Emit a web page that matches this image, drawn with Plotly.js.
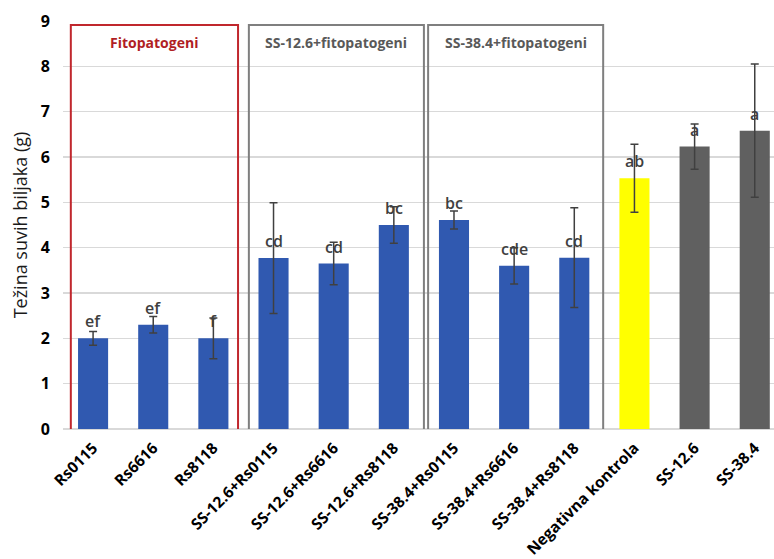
<!DOCTYPE html>
<html>
<head>
<meta charset="utf-8">
<script src="https://cdn.plot.ly/plotly-3.0.1.min.js"></script>
<style>html,body{margin:0;padding:0;background:#fff;}#chart{width:774px;height:559px;}</style>
</head>
<body>
<div id="chart"></div>
<script>
const categories = ["Rs0115","Rs6616","Rs8118","SS-12.6+Rs0115","SS-12.6+Rs6616","SS-12.6+Rs8118","SS-38.4+Rs0115","SS-38.4+Rs6616","SS-38.4+Rs8118","Negativna kontrola","SS-12.6","SS-38.4"];
const values = [2.00, 2.30, 2.00, 3.77, 3.65, 4.50, 4.61, 3.60, 3.78, 5.53, 6.23, 6.58];
const errors = [0.15, 0.18, 0.45, 1.22, 0.47, 0.40, 0.20, 0.40, 1.10, 0.75, 0.50, 1.47];
const letters = ["ef","ef","f","cd","cd","bc","bc","cde","cd","ab","a","a"];
const barColors = ["#3059B0","#3059B0","#3059B0","#3059B0","#3059B0","#3059B0","#3059B0","#3059B0","#3059B0","#FFFF00","#606060","#606060"];
const groupTitles = ["Fitopatogeni","SS-12.6+fitopatogeni","SS-38.4+fitopatogeni"];

const FONT = "Open Sans, Liberation Sans, sans-serif";

const trace = {
  type: "bar",
  x: categories,
  y: values,
  width: 0.5,
  marker: {color: barColors, line: {width: 0}},
  error_y: {type: "data", array: errors, visible: true, color: "#404040", thickness: 1.5, width: 4},
  hoverinfo: "x+y"
};

const annotations = categories.map((c, i) => ({
  x: c, y: values[i], xref: "x", yref: "y",
  text: letters[i], showarrow: false, yshift: 17,
  font: {family: FONT, size: 16, color: "#3F3F3F", weight: 600}
}));

// group boxes (styling): category spans
const boxes = [
  {x0: -0.37, x1: 2.41, color: "#C0272D", tcolor: "#B01E24"},
  {x0: 2.59, x1: 5.50, color: "#7F7F7F", tcolor: "#595959"},
  {x0: 5.57, x1: 8.48, color: "#7F7F7F", tcolor: "#595959"}
];
const shapes = boxes.map(b => ({
  type: "rect", xref: "x", yref: "y", x0: b.x0, x1: b.x1, y0: -0.13, y1: 8.91,
  line: {color: b.color, width: 2}, fillcolor: "rgba(0,0,0,0)", layer: "above"
}));
boxes.forEach((b, i) => annotations.push({
  x: (b.x0 + b.x1) / 2, y: 8.52, xref: "x", yref: "y",
  text: "<b>" + groupTitles[i] + "</b>", showarrow: false,
  font: {family: FONT, size: 14, color: b.tcolor}
}));

const layout = {
  width: 774, height: 559,
  margin: {l: 63, r: 0, t: 21, b: 130},
  paper_bgcolor: "#ffffff", plot_bgcolor: "#ffffff",
  showlegend: false,
  bargap: 0.5,
  xaxis: {
    type: "category",
    range: [-0.5, 11.32],
    tickangle: -45,
    tickfont: {family: FONT, size: 15.5, color: "#000000", weight: "bold"},
    showgrid: false, zeroline: false, showline: false, ticks: "",
    ticklabelstandoff: 6,
    automargin: false
  },
  yaxis: {
    range: [0, 9], dtick: 1,
    tickfont: {family: FONT, size: 16, color: "#000000", weight: "bold"},
    gridcolor: "#D9D9D9", gridwidth: 1.5,
    zeroline: true, zerolinecolor: "#D9D9D9", zerolinewidth: 1.5,
    showline: false, ticks: "", ticklabelstandoff: 12,
    title: {text: "Težina suvih biljaka (g)", font: {family: FONT, size: 18, color: "#1A1A1A"}, standoff: 8},
    automargin: false
  },
  shapes: shapes,
  annotations: annotations,
  font: {family: FONT, color: "#1A1A1A"}
};

Plotly.newPlot("chart", [trace], layout, {displayModeBar: false, staticPlot: true});
</script>
</body>
</html>
